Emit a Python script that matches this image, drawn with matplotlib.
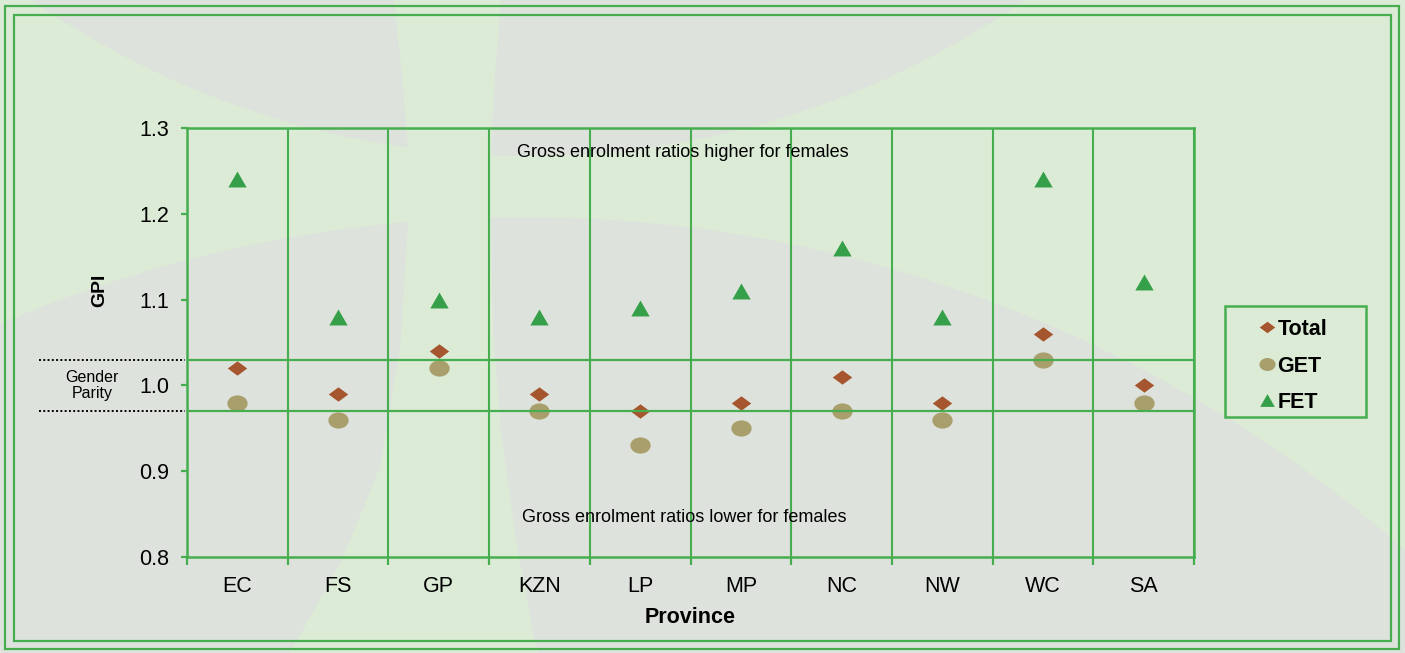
import numpy as np
import matplotlib
matplotlib.use("Agg")
import matplotlib.pyplot as plt
from matplotlib.path import Path
from matplotlib.patches import Circle, Polygon, Rectangle
from matplotlib.transforms import Affine2D
from matplotlib.ticker import FormatStrFormatter

plt.rcParams['font.family'] = ['Liberation Sans', 'DejaVu Sans']

# Gender parity index by province
provinces = ['EC', 'FS', 'GP', 'KZN', 'LP', 'MP', 'NC', 'NW', 'WC', 'SA']
total = [1.02, 0.99, 1.04, 0.99, 0.97, 0.98, 1.01, 0.98, 1.06, 1.00]
get = [0.98, 0.96, 1.02, 0.97, 0.93, 0.95, 0.97, 0.96, 1.03, 0.98]
fet = [1.24, 1.08, 1.10, 1.08, 1.09, 1.11, 1.16, 1.08, 1.24, 1.12]
parity_band = [0.97, 1.03]
y_ticks = [0.8, 0.9, 1.0, 1.1, 1.2, 1.3]

LINE = '#46AE4F'
BG_GREEN = '#DCEBD6'
BG_GRAY = '#DEE2DC'
C_TOTAL = '#A5562E'
C_GET = '#A99F6C'
C_FET = '#35A049'

W, H = 1405, 653
fig = plt.figure(figsize=(W / 100, H / 100), dpi=100)
fig.patch.set_facecolor(BG_GREEN)

# decorative background, pixel coordinates
bg = fig.add_axes([0, 0, 1, 1])
bg.set_xlim(0, W)
bg.set_ylim(H, 0)
bg.axis('off')
bg.add_patch(Rectangle((0, 0), W, H, color=BG_GREEN))
bg.add_patch(Circle((528, -712), 868, color=BG_GRAY, lw=0))
bg.add_patch(Circle((523, 1552), 1335, color=BG_GRAY, lw=0))
left_edge = [(394, 0), (402, 75), (408, 148), (410, 190), (408, 225),
             (400, 350), (380, 467), (342, 560), (290, 653)]
right_edge = [(537, 653), (516, 540), (501, 433), (493, 330), (491, 225),
              (490, 190), (491, 148), (495, 75), (501, 0)]
bg.add_patch(Polygon(left_edge + right_edge, closed=True, color=BG_GREEN, lw=0))
bg.add_patch(Rectangle((5, 6), 1394, 643, fill=False, ec=LINE, lw=1.6))
bg.add_patch(Rectangle((14, 15), 1377, 626, fill=False, ec=LINE, lw=1.6))
bg.add_patch(Rectangle((1225, 306), 141, 111, fill=False, ec=LINE, lw=1.8))

ax = fig.add_axes([187 / W, 1 - 557 / H, 1007 / W, 429 / H])
ax.set_facecolor('none')

x = np.arange(1, len(provinces) + 1)

# slightly wide marker shapes
diamond = Path([(0, 1), (1.35, 0), (0, -1), (-1.35, 0), (0, 1)], closed=True)
ellipse = Path.unit_circle().transformed(Affine2D().scale(1.25, 1.0))
triangle = Path([(0, 1), (1.15, -1), (-1.15, -1), (0, 1)], closed=True)

h_get, = ax.plot(x, get, ls='none', marker=ellipse, ms=14.6, color=C_GET, mec='none')
h_total, = ax.plot(x, total, ls='none', marker=diamond, ms=14.0, color=C_TOTAL, mec='none')
h_fet, = ax.plot(x, fet, ls='none', marker=triangle, ms=13.2, color=C_FET, mec='none')

ax.set_xlim(0.5, len(provinces) + 0.5)
ax.set_ylim(0.8, 1.3)

# category boundaries as gridlines, labels in the middle
ax.set_xticks(np.arange(0.5, len(provinces) + 1, 1.0))
ax.set_xticklabels([])
ax.set_xticks(x, provinces, minor=True)
ax.tick_params(axis='x', which='major', direction='out', length=6, width=1.6, color=LINE)
ax.tick_params(axis='x', which='minor', length=0, pad=14, labelsize=15.5)
ax.grid(axis='x', which='major', color=LINE, lw=1.5)

ax.set_yticks(y_ticks)
ax.yaxis.set_major_formatter(FormatStrFormatter('%.1f'))
ax.tick_params(axis='y', direction='out', length=4, width=1.6, color=LINE, pad=9, labelsize=15.5)

for s in ax.spines.values():
    s.set_color(LINE)
    s.set_linewidth(1.8)

for yv in parity_band:
    ax.axhline(yv, color=LINE, lw=1.6)
    ax.plot([-0.147, -0.002], [yv, yv], transform=ax.get_yaxis_transform(),
            clip_on=False, color='black', ls=(0, (1, 1.2)), lw=1.4)
ax.text(-0.094, np.mean(parity_band), 'Gender\nParity', transform=ax.get_yaxis_transform(),
        ha='center', va='center', fontsize=11.5, linespacing=1.05)

ax.text(0.4926, 0.944, 'Gross enrolment ratios higher for females', transform=ax.transAxes,
        ha='center', va='center', fontsize=13)
ax.text(0.4935, 0.093, 'Gross enrolment ratios lower for females', transform=ax.transAxes,
        ha='center', va='center', fontsize=13)

ax.set_xlabel('Province', fontsize=15.5, fontweight='bold', labelpad=7)
ax.set_ylabel('GPI', fontsize=14, fontweight='bold')
ax.yaxis.set_label_coords(-0.078, 0.622)

fig.legend([h_total, h_get, h_fet], ['Total', 'GET', 'FET'], loc='center',
           bbox_to_anchor=(1293 / W, 1 - 366 / H), frameon=False,
           prop=dict(weight='bold', size=15.5), markerscale=0.8,
           handlelength=0.7, handletextpad=0.15, labelspacing=0.72, borderpad=0)

fig.savefig('out.png', dpi=100, facecolor=fig.get_facecolor())
